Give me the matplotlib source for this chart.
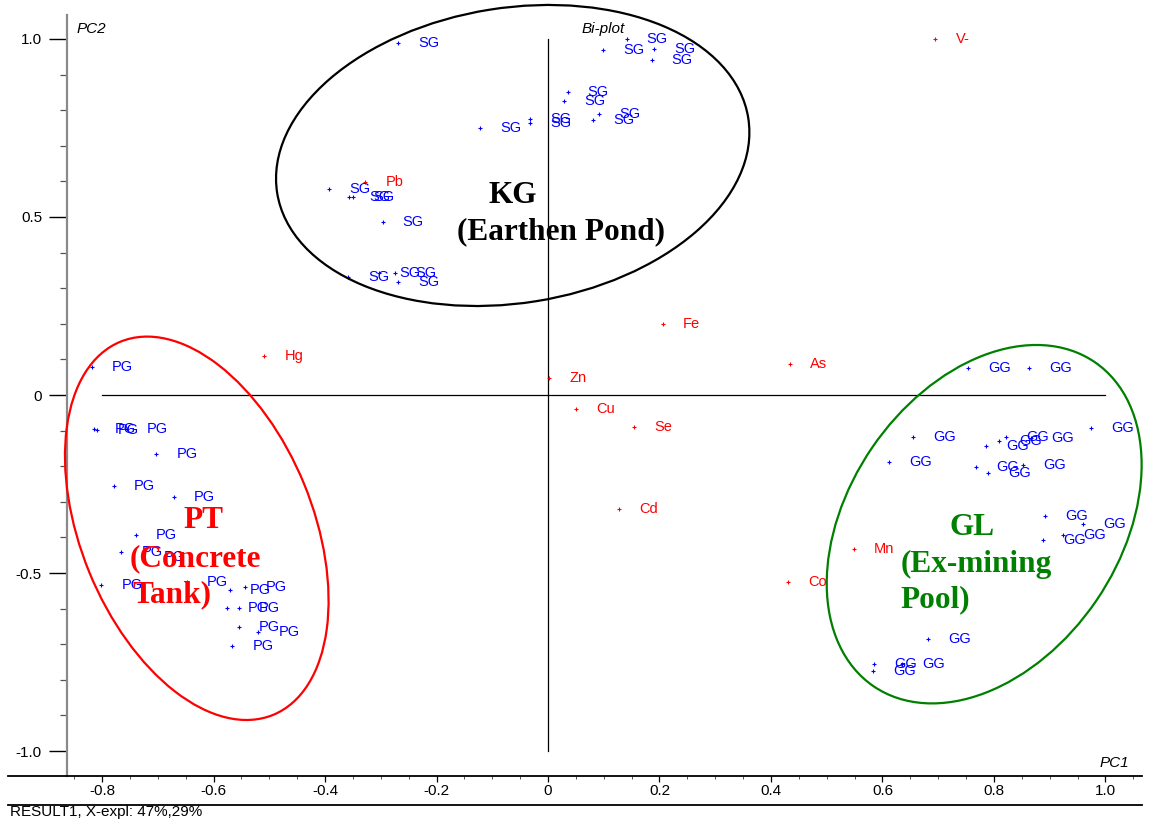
import matplotlib
matplotlib.use("Agg")
import matplotlib.pyplot as plt
from matplotlib.patches import Ellipse
from matplotlib.lines import Line2D
from matplotlib.transforms import Affine2D, ScaledTranslation
from matplotlib.ticker import MultipleLocator, FixedLocator, FixedFormatter

plt.rcParams['font.family'] = ['Liberation Sans', 'DejaVu Sans']
plt.rcParams['axes.unicode_minus'] = False

# ---- PCA scores of the samples (PC1, PC2) ----
sg_pc1 = [-0.2685, 0.0992, 0.1411, 0.1907, 0.1860, 0.0353, 0.0287, 0.0920, 0.0813, -0.0323,
          -0.0323, -0.1220, -0.3923, -0.3564, -0.3503, -0.2966, -0.3582, -0.3026, -0.2744, -0.2685]
sg_pc2 = [0.988, 0.969, 0.999, 0.971, 0.941, 0.850, 0.827, 0.789, 0.773, 0.774,
          0.763, 0.750, 0.578, 0.555, 0.557, 0.486, 0.332, 0.344, 0.344, 0.318]

pg_pc1 = [-0.8185, -0.8138, -0.8084, -0.7557, -0.7026, -0.7790, -0.6709, -0.7390, -0.7654, -0.7259,
          -0.8012, -0.6481, -0.5704, -0.5430, -0.5752, -0.5548, -0.5548, -0.5196, -0.5663]
pg_pc2 = [0.080, -0.096, -0.098, -0.096, -0.166, -0.256, -0.287, -0.394, -0.442, -0.456,
          -0.535, -0.524, -0.549, -0.538, -0.597, -0.598, -0.652, -0.665, -0.704]

gg_pc1 = [0.7528, 0.8634, 0.6553, 0.6122, 0.9734, 0.7862, 0.8095, 0.8209, 0.8658, 0.7677,
          0.7898, 0.8526, 0.8915, 0.9591, 0.9243, 0.8885, 0.6822, 0.5853, 0.5835, 0.6344]
gg_pc2 = [0.077, 0.077, -0.118, -0.187, -0.094, -0.143, -0.129, -0.117, -0.120, -0.202,
          -0.218, -0.196, -0.339, -0.362, -0.393, -0.407, -0.684, -0.757, -0.775, -0.757]

# ---- loadings of the measured elements ----
var_names = ["V-", "Pb", "Fe", "Hg", "As", "Zn", "Cu", "Se", "Cd", "Co", "Mn"]
var_pc1 = [0.695, -0.328, 0.206, -0.509, 0.434, 0.002, 0.050, 0.155, 0.127, 0.431, 0.549]
var_pc2 = [1.000, 0.599, 0.199, 0.110, 0.086, 0.049, -0.040, -0.091, -0.320, -0.524, -0.433]

x_ticks = [-0.8, -0.6, -0.4, -0.2, 0.0, 0.2, 0.4, 0.6, 0.8, 1.0]
x_tick_labels = ["-0.8", "-0.6", "-0.4", "-0.2", "0", "0.2", "0.4", "0.6", "0.8", "1.0"]
y_ticks = [-1.0, -0.5, 0.0, 0.5, 1.0]
y_tick_labels = ["-1.0", "-0.5", "0", "0.5", "1.0"]

W, H = 1149, 821
fig = plt.figure(figsize=(W / 100, H / 100), dpi=100)
ax_l, ax_r, ax_t, ax_b = 67, 1142, 15, 776
ax = fig.add_axes([ax_l / W, 1 - ax_b / H, (ax_r - ax_l) / W, (ax_b - ax_t) / H])
ax.set_xlim(-0.8628, 1.0655)
ax.set_ylim(-1.0702, 1.0674)

for s in ("top", "right", "bottom"):
    ax.spines[s].set_visible(False)
ax.spines["left"].set_color("#8a8a8a")
ax.spines["left"].set_linewidth(1.6)

ax.xaxis.set_major_locator(FixedLocator(x_ticks))
ax.xaxis.set_major_formatter(FixedFormatter(x_tick_labels))
ax.xaxis.set_minor_locator(MultipleLocator(0.05))
ax.yaxis.set_major_locator(FixedLocator(y_ticks))
ax.yaxis.set_major_formatter(FixedFormatter(y_tick_labels))
ax.yaxis.set_minor_locator(MultipleLocator(0.1))
ax.tick_params(axis="x", which="major", direction="out", length=4, width=0.9,
               pad=2, labelsize=11, color="black")
ax.tick_params(axis="x", which="minor", direction="out", length=2, width=0.7, color="#555555")
ax.tick_params(axis="y", which="major", direction="out", length=13, width=1.0,
               pad=5, labelsize=11, color="black")
ax.tick_params(axis="y", which="minor", direction="out", length=5, width=0.9, color="#555555")

# centre cross
ax.plot([-0.8, 1.0], [0, 0], color="black", lw=0.9, zorder=1)
ax.plot([0, 0], [-1.0, 1.0], color="black", lw=0.9, zorder=1)

# horizontal rules along the bottom
for yp, lw in ((ax_b, 1.3), (805, 1.3)):
    fig.add_artist(Line2D([8 / W, ax_r / W], [1 - yp / H] * 2,
                          transform=fig.transFigure, color="black", lw=lw))

lab_kw = dict(textcoords="offset points", xytext=(14.5, 0), va="center", ha="left",
              fontsize=10.5)


def draw_group(xs, ys, labels, pcol, tcol):
    ax.plot(xs, ys, linestyle="none", marker="+", ms=2.6, mew=0.8, color=pcol, zorder=3)
    for x, y, t in zip(xs, ys, labels):
        ax.annotate(t, (x, y), color=tcol, zorder=4, **lab_kw)


draw_group(sg_pc1, sg_pc2, ["SG"] * len(sg_pc1), "#0000ff", "#0000ff")
draw_group(pg_pc1, pg_pc2, ["PG"] * len(pg_pc1), "#0000ff", "#0000ff")
draw_group(gg_pc1, gg_pc2, ["GG"] * len(gg_pc1), "#0000ff", "#0000ff")
draw_group(var_pc1, var_pc2, var_names, "#ff0000", "#ff0000")


def group_ellipse(cx, cy, a_px, b_px, angle, color):
    # outline sized in screen pixels, anchored at a data-space centre
    tr = Affine2D() + ScaledTranslation(cx, cy, ax.transData)
    e = Ellipse((0, 0), 2 * a_px, 2 * b_px, angle=angle, transform=tr,
                fill=False, edgecolor=color, lw=1.6, clip_on=False, zorder=2)
    fig.add_artist(e)


group_ellipse(-0.0633, 0.6728, 238.5, 147.6, 9.06, "black")
group_ellipse(-0.6300, -0.3744, 201.6, 116.1, -67.75, "#ff0000")
group_ellipse(0.7824, -0.3629, 196.2, 135.7, 55.7, "#008000")

serif = dict(family=["Liberation Serif", "DejaVu Serif"], fontweight="bold", fontsize=22.5,
             va="baseline", zorder=5)
ax.text(-0.0628, 0.540, "KG", ha="center", color="black", **serif)
ax.text(0.0233, 0.4374, "(Earthen Pond)", ha="center", color="black", **serif)
ax.text(-0.6542, -0.3745, "PT", ha="left", color="#ff0000", **serif)
ax.text(-0.7498, -0.4803, "(Concrete", ha="left", color="#ff0000", **serif)
ax.text(-0.7450, -0.5834, "Tank)", ha="left", color="#ff0000", **serif)
ax.text(0.7198, -0.3933, "GL", ha="left", color="#008000", **serif)
ax.text(0.6326, -0.4980, "(Ex-mining", ha="left", color="#008000", **serif)
ax.text(0.6326, -0.5975, "Pool)", ha="left", color="#008000", **serif)

ax.text(-0.845, 1.028, "PC2", ha="left", va="center", fontsize=11, style="italic")
ax.text(0.0987, 1.028, "Bi-plot", ha="center", va="center", fontsize=11, style="italic")
ax.text(1.015, -1.034, "PC1", ha="center", va="center", fontsize=11, style="italic")

fig.text(10 / W, 1 - 812 / H, "RESULT1, X-expl: 47%,29%", ha="left", va="center", fontsize=11)

fig.savefig("out.png", dpi=100)
